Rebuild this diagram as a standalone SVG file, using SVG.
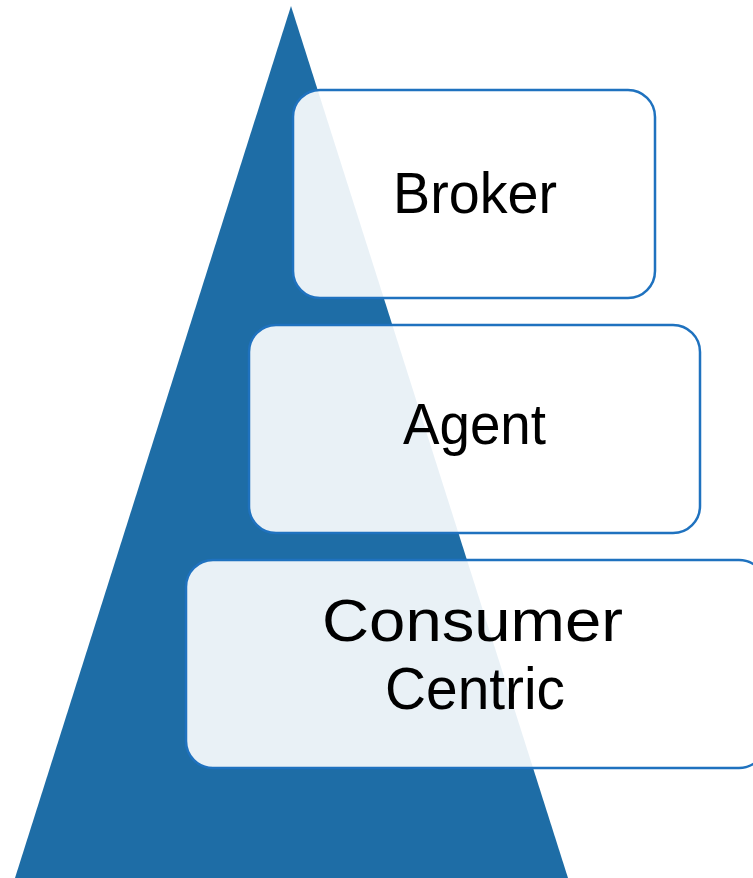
<svg xmlns="http://www.w3.org/2000/svg" width="753" height="878" viewBox="0 0 753 878">
  <style>
    .tier { fill: #ffffff; fill-opacity: 0.9; stroke: #1F72BF; stroke-width: 2.5; }
    .label { font-family: "Liberation Sans", Arial, sans-serif; fill: #000000; text-anchor: middle; }
  </style>
  <rect x="0" y="0" width="753" height="878" fill="#ffffff"/>
  <!-- background pyramid -->
  <polygon id="pyramid" points="291,6 568,878 15,878" fill="#1E6DA6"/>

  <g id="broker">
    <rect class="tier" x="293" y="90" width="362" height="208" rx="27" ry="27"/>
    <text class="label" x="475" y="213" font-size="57" textLength="164" lengthAdjust="spacingAndGlyphs">Broker</text>
  </g>

  <g id="agent">
    <rect class="tier" x="249" y="325" width="451" height="208" rx="27" ry="27"/>
    <text class="label" x="474.5" y="444" font-size="57" textLength="143" lengthAdjust="spacingAndGlyphs">Agent</text>
  </g>

  <g id="consumer-centric">
    <rect class="tier" x="186" y="560" width="580" height="208" rx="27" ry="27"/>
    <text class="label" x="472.5" y="641" font-size="60" textLength="301" lengthAdjust="spacingAndGlyphs">Consumer</text>
    <text class="label" x="475" y="709" font-size="60" textLength="180" lengthAdjust="spacingAndGlyphs">Centric</text>
  </g>
</svg>
